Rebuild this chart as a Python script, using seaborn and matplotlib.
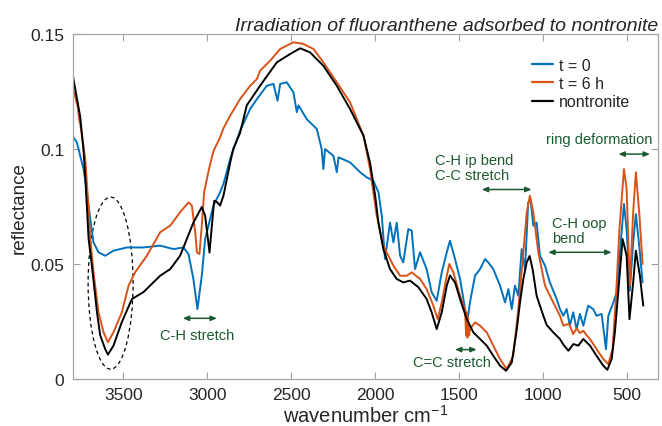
import pandas as pd
import matplotlib.pyplot as plt
import seaborn as sns
from matplotlib.patches import Ellipse

sns.set_style('ticks')
plt.rcParams['font.family'] = ['Liberation Sans', 'DejaVu Sans']
plt.rcParams['mathtext.fontset'] = 'custom'
plt.rcParams['mathtext.rm'] = 'Liberation Sans'

# spectra: (wavenumber, reflectance)
t0_points = [
    (3800, 0.1055), (3776, 0.1029), (3756, 0.097), (3736, 0.0913), (3716, 0.0812),
    (3696, 0.0696), (3677, 0.0594), (3647, 0.0551), (3607, 0.0536), (3558, 0.0558),
    (3478, 0.0572), (3379, 0.0572), (3280, 0.058), (3201, 0.0565), (3141, 0.0572),
    (3111, 0.0543), (3082, 0.0435), (3058, 0.0304), (3032, 0.0449), (3012, 0.0609),
    (2992, 0.0667), (2963, 0.0754), (2923, 0.0812), (2903, 0.0848), (2863, 0.0957),
    (2804, 0.108), (2744, 0.1174), (2704, 0.1217), (2645, 0.1275), (2605, 0.1283),
    (2581, 0.121), (2565, 0.1283), (2526, 0.129), (2486, 0.1246), (2466, 0.116),
    (2456, 0.119), (2407, 0.113), (2347, 0.1087), (2318, 0.1), (2308, 0.0913),
    (2298, 0.1), (2248, 0.097), (2228, 0.0899), (2218, 0.0964), (2149, 0.0942),
    (2089, 0.0899), (2050, 0.0877), (2010, 0.0862), (1980, 0.0812), (1960, 0.071),
    (1941, 0.0522), (1911, 0.068), (1891, 0.0594), (1871, 0.068), (1851, 0.0536),
    (1832, 0.0507), (1802, 0.0652), (1782, 0.0645), (1762, 0.0478), (1732, 0.0551),
    (1693, 0.0478), (1663, 0.0377), (1633, 0.034), (1603, 0.0464), (1573, 0.0551),
    (1554, 0.0601), (1524, 0.0522), (1494, 0.0435), (1464, 0.0304), (1454, 0.0232),
    (1435, 0.0333), (1405, 0.0449), (1375, 0.0478), (1345, 0.0522), (1326, 0.0507),
    (1296, 0.0478), (1256, 0.0406), (1226, 0.0333), (1206, 0.0391), (1186, 0.0304),
    (1167, 0.0406), (1147, 0.0362), (1127, 0.0565), (1107, 0.0478), (1088, 0.0768),
    (1074, 0.078), (1058, 0.0667), (1038, 0.068), (1018, 0.0536), (988, 0.0493),
    (959, 0.042), (919, 0.0348), (899, 0.0304), (879, 0.0275), (859, 0.0304),
    (840, 0.0232), (820, 0.029), (800, 0.0217), (780, 0.0283), (760, 0.0232),
    (731, 0.0319), (701, 0.0304), (681, 0.0275), (651, 0.0283), (625, 0.013),
    (611, 0.0275), (581, 0.0333), (562, 0.0377), (542, 0.0551), (518, 0.0761),
    (502, 0.0652), (483, 0.0384), (463, 0.0594), (447, 0.0717), (427, 0.058),
    (407, 0.042),
]

t6_points = [
    (3800, 0.127), (3770, 0.118), (3760, 0.112), (3756, 0.111), (3726, 0.0957),
    (3706, 0.0739), (3696, 0.0609), (3677, 0.0464), (3647, 0.029), (3617, 0.0203),
    (3591, 0.016), (3558, 0.0203), (3508, 0.029), (3468, 0.0406), (3429, 0.0464),
    (3359, 0.0536), (3280, 0.0638), (3220, 0.0667), (3161, 0.0725), (3111, 0.0768),
    (3091, 0.0754), (3071, 0.0638), (3061, 0.0551), (3046, 0.0543), (3032, 0.0667),
    (3018, 0.0812), (2990, 0.091), (2963, 0.099), (2923, 0.105), (2903, 0.109),
    (2863, 0.1145), (2804, 0.1217), (2744, 0.1275), (2704, 0.1304), (2685, 0.134),
    (2625, 0.1384), (2565, 0.1435), (2486, 0.1464), (2427, 0.1457), (2367, 0.1435),
    (2308, 0.1377), (2228, 0.129), (2149, 0.1203), (2069, 0.1058), (2030, 0.0913),
    (1990, 0.071), (1951, 0.058), (1891, 0.0493), (1851, 0.0449), (1812, 0.0449),
    (1782, 0.0464), (1732, 0.0435), (1693, 0.0391), (1653, 0.0319), (1627, 0.026),
    (1603, 0.0333), (1573, 0.0449), (1558, 0.05), (1534, 0.0464), (1494, 0.0362),
    (1464, 0.030), (1458, 0.019), (1454, 0.029), (1450, 0.018), (1446, 0.027),
    (1440, 0.019), (1435, 0.0217), (1405, 0.0246), (1375, 0.0232), (1335, 0.0203),
    (1296, 0.0145), (1256, 0.0087), (1216, 0.0043), (1177, 0.0101), (1147, 0.0304),
    (1117, 0.0551), (1097, 0.0725), (1078, 0.0797), (1058, 0.0725), (1028, 0.0551),
    (988, 0.0406), (939, 0.0333), (899, 0.0275), (879, 0.0232), (845, 0.024),
    (820, 0.0195), (800, 0.022), (780, 0.020), (760, 0.021), (740, 0.019),
    (720, 0.0174), (681, 0.013), (641, 0.0087), (611, 0.0065), (586, 0.013),
    (566, 0.0348), (546, 0.0638), (518, 0.0913), (502, 0.0826), (483, 0.0406),
    (463, 0.0725), (447, 0.0899), (427, 0.0725), (407, 0.050),
]

nont_points = [
    (3800, 0.132), (3756, 0.114), (3737, 0.100), (3726, 0.088), (3706, 0.061),
    (3686, 0.049), (3656, 0.029), (3637, 0.019), (3607, 0.013), (3591, 0.0106),
    (3558, 0.0145), (3508, 0.0248), (3448, 0.0348), (3379, 0.0378), (3280, 0.0449),
    (3220, 0.0478), (3161, 0.0536), (3082, 0.068), (3032, 0.0748), (3012, 0.071),
    (2986, 0.055), (2972, 0.0667), (2958, 0.0775), (2942, 0.077), (2923, 0.0754),
    (2903, 0.0797), (2863, 0.094), (2845, 0.100), (2804, 0.107), (2764, 0.119),
    (2685, 0.1275), (2585, 0.1377), (2506, 0.1413), (2446, 0.1438), (2387, 0.142),
    (2308, 0.1362), (2228, 0.1275), (2149, 0.1174), (2069, 0.1058), (2030, 0.094),
    (2000, 0.080), (1980, 0.068), (1951, 0.0565), (1911, 0.0478), (1871, 0.0435),
    (1832, 0.042), (1792, 0.0428), (1742, 0.0399), (1693, 0.0348), (1663, 0.029),
    (1633, 0.0217), (1603, 0.029), (1573, 0.0406), (1554, 0.045), (1524, 0.042),
    (1494, 0.0348), (1454, 0.026), (1415, 0.0203), (1375, 0.0174), (1335, 0.0145),
    (1296, 0.0101), (1256, 0.0058), (1220, 0.0036), (1186, 0.0072), (1156, 0.0217),
    (1137, 0.0333), (1117, 0.0435), (1097, 0.0507), (1080, 0.0535), (1062, 0.0478),
    (1038, 0.0362), (998, 0.0275), (978, 0.0235), (939, 0.0203), (899, 0.0174),
    (879, 0.015), (849, 0.0123), (819, 0.0152), (790, 0.0145), (760, 0.0174),
    (720, 0.0145), (681, 0.0101), (641, 0.0058), (617, 0.004), (591, 0.0087),
    (572, 0.0203), (552, 0.0377), (526, 0.0609), (502, 0.0536), (485, 0.026),
    (463, 0.042), (447, 0.0558), (423, 0.0449), (403, 0.0319),
]

series_names = ['t = 0', 't = 6 h', 'nontronite']
series_colors = ['#0072BD', '#D95319', '#000000']
x_ticks = [3500, 3000, 2500, 2000, 1500, 1000, 500]
y_ticks = [0, 0.05, 0.1, 0.15]
y_tick_labels = ['0', '0.05', '0.1', '0.15']

# band assignments: (label, text x, text y, arrow from, arrow to, arrow y, ha)
bands = [
    ('C-H stretch', 3058, 0.0191, 3145, 2942, 0.0264, 'center'),
    ('C=C stretch', 1542, 0.0074, 1524, 1395, 0.0128, 'center'),
    ('C-H ip bend\nC-C stretch', 1643, 0.092, 1365, 1068, 0.0824, 'left'),
    ('C-H oop\nbend', 948, 0.0645, 969, 591, 0.0551, 'left'),
    ('ring deformation', 667, 0.1043, 551, 363, 0.0978, 'center'),
]
green = '#1d5a32'

frames = []
for name, pts in zip(series_names, [t0_points, t6_points, nont_points]):
    d = pd.DataFrame(pts, columns=['wavenumber', 'reflectance'])
    d['series'] = name
    frames.append(d)
df = pd.concat(frames, ignore_index=True)

fig = plt.figure(figsize=(6.62, 4.27), dpi=100)
ax = fig.add_axes([0.11, 0.11, 0.884, 0.808])

sns.lineplot(data=df, x='wavenumber', y='reflectance', hue='series',
             palette=dict(zip(series_names, series_colors)), hue_order=series_names,
             sort=False, estimator=None, lw=1.4, ax=ax)

ax.set_xlim(3800, 315)
ax.set_ylim(0, 0.15)
ax.set_xticks(x_ticks)
ax.set_yticks(y_ticks)
ax.set_yticklabels(y_tick_labels)
ax.tick_params(direction='in', top=True, right=True, length=5, color='#a0a0a0',
               labelsize=12.5, pad=6)
for s in ax.spines.values():
    s.set_color('#a8a8a8')
    s.set_linewidth(0.9)
ax.set_xlabel('wavenumber cm$^{-1}$', fontsize=14.5, labelpad=1)
ax.set_ylabel('reflectance', fontsize=13.6, labelpad=2)

leg = ax.legend(loc='upper left', bbox_to_anchor=(0.785, 0.931), frameon=False,
                fontsize=11.5, handlelength=1.3, handletextpad=0.35,
                labelspacing=0.2, borderpad=0, borderaxespad=0)
for h in leg.get_lines():
    h.set_linewidth(1.6)

for label, tx, ty, a1, a2, ay, ha in bands:
    ax.text(tx, ty, label, color=green, fontsize=10.5, ha=ha, va='center',
            linespacing=1.15)
    ax.annotate('', xy=(a1, ay), xytext=(a2, ay),
                arrowprops=dict(arrowstyle='<|-|>,head_length=0.35,head_width=0.15',
                                color=green, lw=1.1, shrinkA=0, shrinkB=0))

ax.add_patch(Ellipse((3575, 0.0417), width=268, height=0.0748, fill=False,
                     ls=(0, (3, 2.5)), ec='black', lw=0.9))

fig.text(0.994, 0.927, 'Irradiation of fluoranthene adsorbed to nontronite',
         ha='right', va='baseline', fontsize=14, style='italic')

fig.savefig('out.png', dpi=100)
